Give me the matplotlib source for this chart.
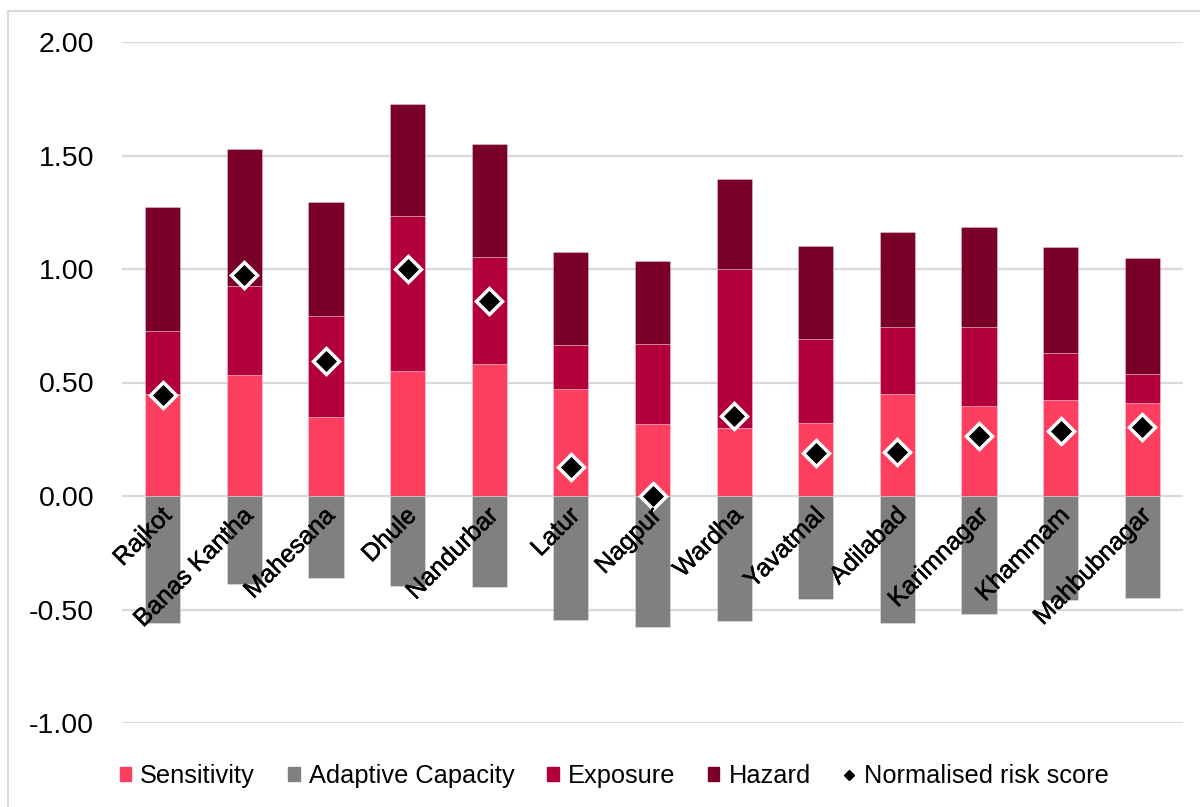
import matplotlib
matplotlib.use("Agg")
import matplotlib.pyplot as plt
from matplotlib.patches import Rectangle
from matplotlib.lines import Line2D
import matplotlib.patheffects as pe
import numpy as np

plt.rcParams['font.family'] = ['Liberation Sans', 'DejaVu Sans']

categories = ["Rajkot", "Banas Kantha", "Mahesana", "Dhule", "Nandurbar", "Latur", "Nagpur",
              "Wardha", "Yavatmal", "Adilabad", "Karimnagar", "Khammam", "Mahbubnagar"]
sensitivity = [0.450, 0.533, 0.347, 0.550, 0.580, 0.470, 0.319, 0.298, 0.322, 0.451, 0.396, 0.421, 0.408]
exposure = [0.275, 0.393, 0.444, 0.685, 0.472, 0.193, 0.351, 0.702, 0.368, 0.293, 0.348, 0.207, 0.129]
hazard = [0.548, 0.601, 0.505, 0.491, 0.499, 0.413, 0.365, 0.395, 0.411, 0.419, 0.440, 0.469, 0.510]
adaptive_capacity = [-0.560, -0.389, -0.361, -0.398, -0.403, -0.548, -0.576, -0.551, -0.455, -0.561, -0.520, -0.460, -0.449]
risk_score = [0.447, 0.972, 0.594, 1.000, 0.860, 0.129, 0.000, 0.354, 0.191, 0.194, 0.263, 0.285, 0.303]
yticks = [-1.0, -0.5, 0.0, 0.5, 1.0, 1.5, 2.0]

c_sens = "#FF3F5F"
c_adap = "#808080"
c_expo = "#B3003B"
c_haz = "#7A0028"

fig = plt.figure(figsize=(12, 8.07), dpi=100)
ax = fig.add_axes([122/1200, 1 - 723/807, (1183-122)/1200, (723-42)/807])

x = np.arange(len(categories))
w = 0.43
sens = np.array(sensitivity)
expo = np.array(exposure)
haz = np.array(hazard)
ekw = dict(edgecolor=(1, 1, 1, 0.35), linewidth=0.6, zorder=2)
ax.bar(x, sens, w, color=c_sens, label="Sensitivity", **ekw)
ax.bar(x, adaptive_capacity, w, color=c_adap, label="Adaptive Capacity", **ekw)
ax.bar(x, expo, w, bottom=sens, color=c_expo, label="Exposure", **ekw)
ax.bar(x, haz, w, bottom=sens + expo, color=c_haz, label="Hazard", **ekw)
ax.plot(x, risk_score, linestyle="none", marker="D", markersize=13, markerfacecolor="black",
        markeredgecolor="white", markeredgewidth=2.5, zorder=4)

ax.set_xlim(-0.5, len(categories) - 0.5)
ax.set_ylim(-1.0, 2.0)
ax.set_yticks(yticks)
ax.set_yticklabels([f"{v:.2f}" for v in yticks], fontsize=20.5)
ax.tick_params(axis="y", length=0, pad=20)
ax.set_xticks([])
ax.grid(axis="y", color="#D9D9D9", linewidth=1.6, zorder=0)
ax.set_axisbelow(True)
for s in ax.spines.values():
    s.set_visible(False)

for i, name in enumerate(categories):
    ax.text(i + 0.06, -0.07, name, rotation=45, rotation_mode="anchor", ha="right", va="center",
            fontsize=18, color="black", zorder=5,
            path_effects=[pe.withStroke(linewidth=0.35, foreground="black")])

handles = [
    Rectangle((0, 0), 1, 1, color=c_sens),
    Rectangle((0, 0), 1, 1, color=c_adap),
    Rectangle((0, 0), 1, 1, color=c_expo),
    Rectangle((0, 0), 1, 1, color=c_haz),
    Line2D([], [], linestyle="none", marker="D", markersize=5, color="black"),
]
labels = ["Sensitivity", "Adaptive Capacity", "Exposure", "Hazard", "Normalised risk score"]
fig.legend(handles, labels, loc="center", bbox_to_anchor=(0.512, 0.038), ncol=5, frameon=False,
           fontsize=18.3, handlelength=0.45, handleheight=0.45, handletextpad=0.35, columnspacing=1.3)

fig.patches.append(Rectangle((8/1200, -0.1), 1.2, 1 - 11/807 + 0.1, transform=fig.transFigure,
                             fill=False, edgecolor="#D9D9D9", linewidth=1.5, zorder=0))

fig.savefig("out.png", dpi=100)
